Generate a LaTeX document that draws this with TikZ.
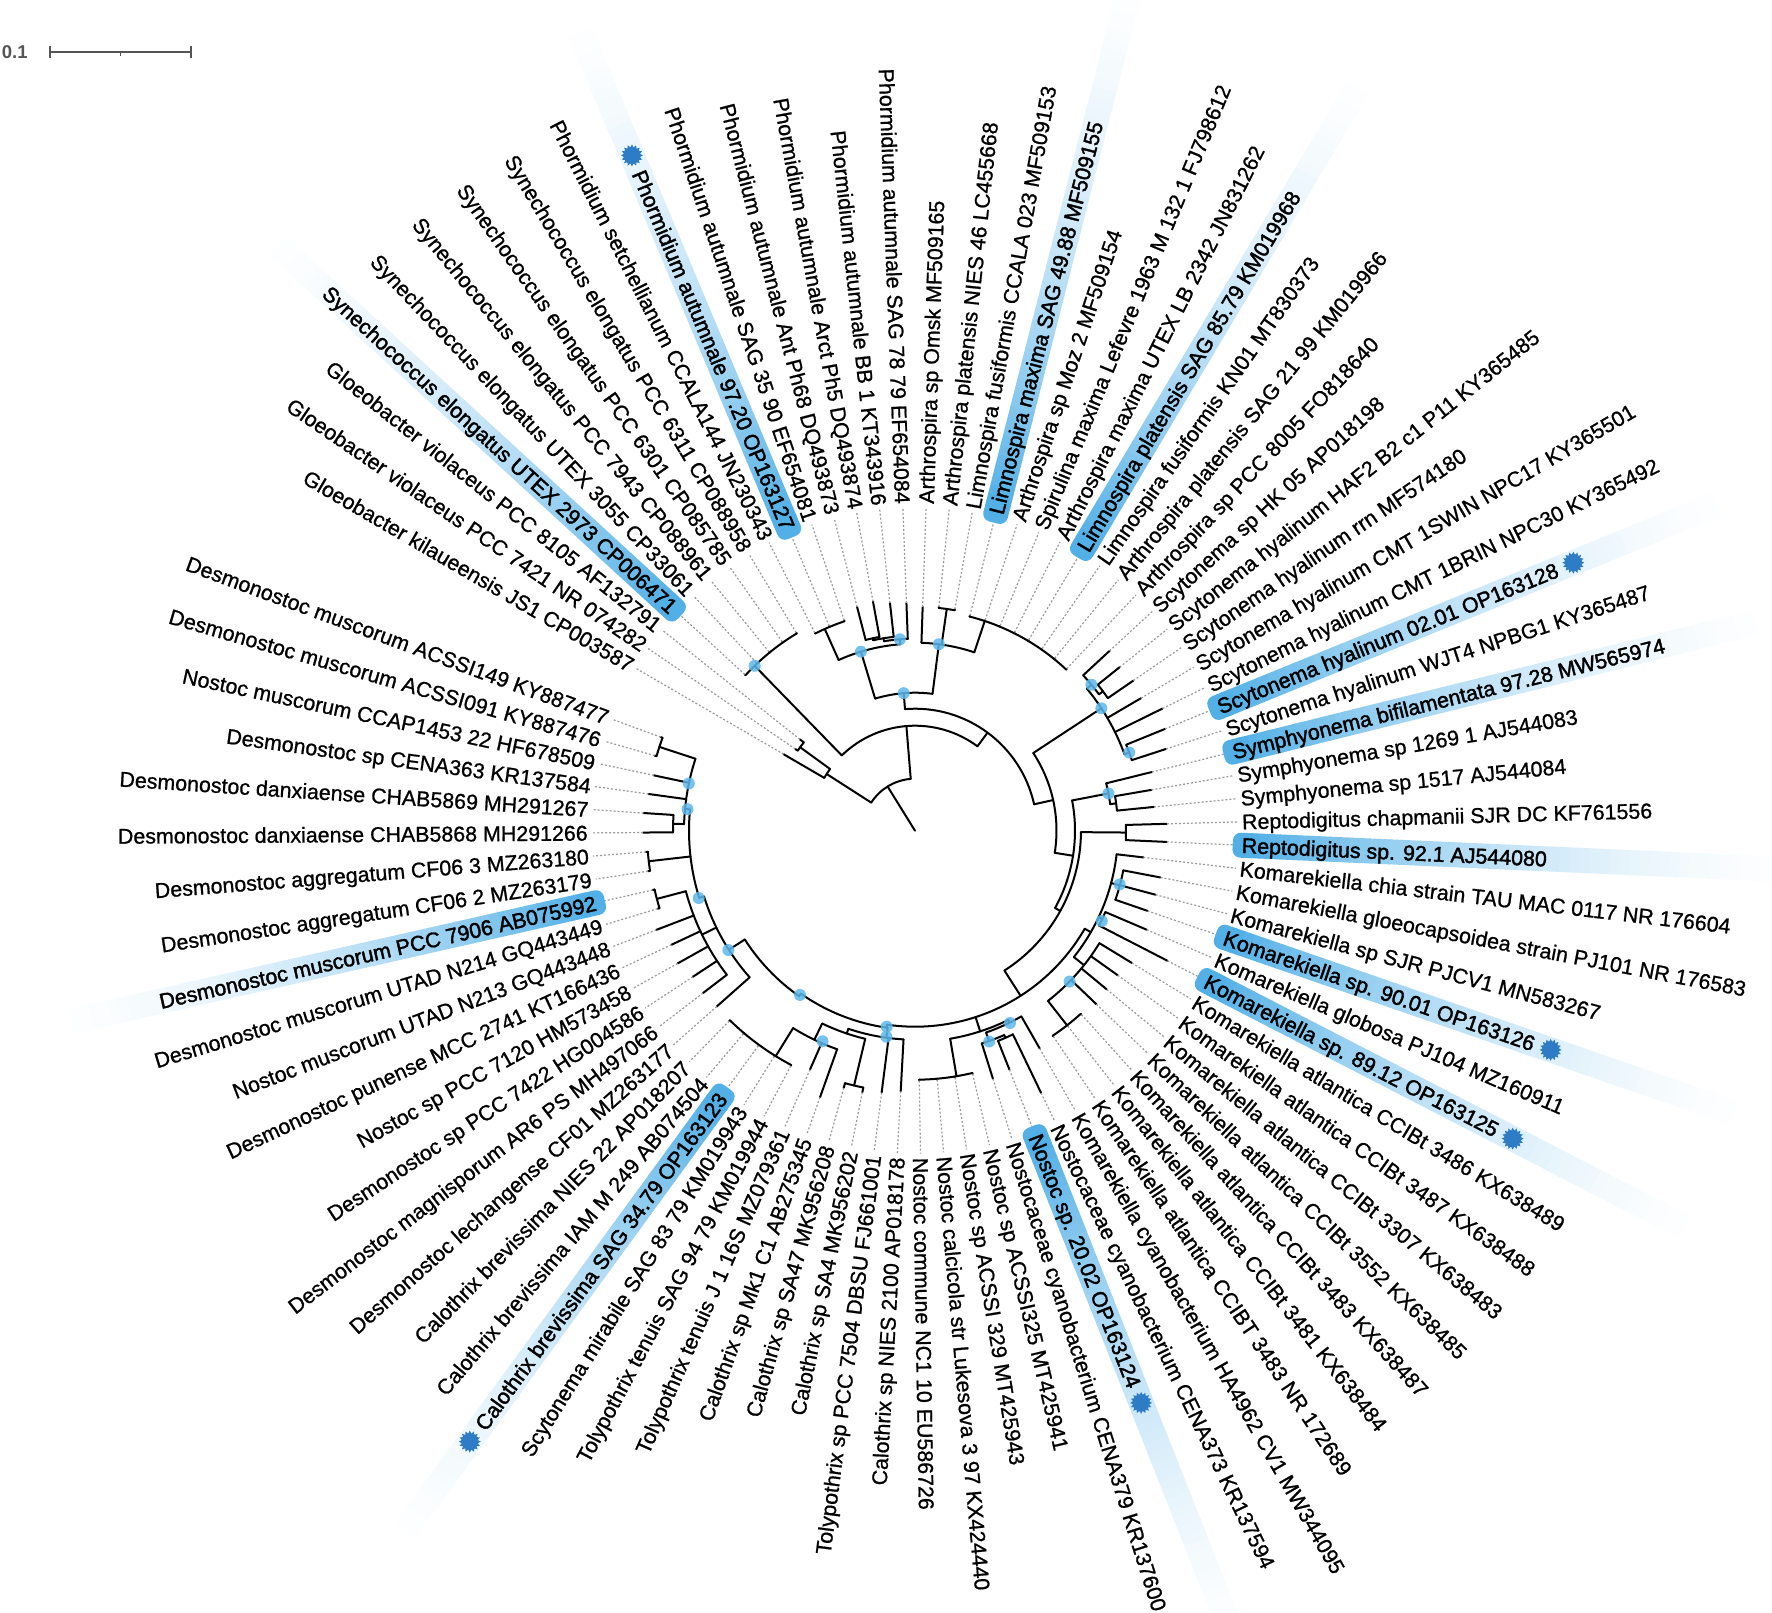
\documentclass[tikz,border=0pt]{standalone}
\usepackage{fontspec}
\setmainfont{Liberation Sans}
\newfontfamily\labfont{Liberation Sans}[FakeBold=0.9]
\newfontfamily\hlfont{Liberation Sans}[FakeBold=1.8]
\usetikzlibrary{shapes.geometric}
\definecolor{hlA}{HTML}{52B0E7}
\definecolor{nodeblue}{HTML}{5DB8EC}
\definecolor{starblue}{HTML}{2E7BC6}
\definecolor{dotgrey}{HTML}{9A9A9A}
\definecolor{scalegrey}{HTML}{555555}
\newcommand\setth[1]{\pgfmathsetmacro\th{159.8+mod(#1+47,86)*4.1176471}}
\newcommand\Rd[3]{\draw[br] (#1:#2) -- (#1:#3);}
\newcommand\Ar[3]{\draw[br] (#2:#1) arc[start angle=#2,end angle=#3,radius=#1];}
\newcommand\Bd[2]{\fill[nodeblue,opacity=.85] (#2:#1) circle[radius=6];}
\tikzset{
 br/.style={line width=2pt, black, line cap=round},
 dt/.style={dotgrey, line width=1.2pt, dash pattern=on 2pt off 2pt},
 lab/.style={inner sep=0pt, text height=15.3pt, text depth=0pt},
 starb/.style={star, star points=16, star point ratio=1.35, fill=starblue, draw=none, minimum size=22pt, inner sep=0pt},
}
\begin{document}
\begin{tikzpicture}[x=1pt,y=1pt]
\useasboundingbox (-915,-781.3) rectangle (857,830.7);
\fill[white] (-915,-781.3) rectangle (857,830.7);
% highlight bands (stepped fade)
\foreach \k in {1,5,7,16,20,29,35,47,57,71,81,83}{
 \setth{\k}
 \begin{scope}[rotate=\th]
  \fill[hlA, rounded corners=8pt] (318,-12.5) rectangle (345,12.5);
  \foreach \i in {0,...,57}{
   \pgfmathsetmacro\xa{335+10*\i}
   \pgfmathtruncatemacro\pp{100*(1-\i/57)^1.8}
   \fill[hlA!\pp!white] (\xa,-12.5) rectangle (\xa+10.8,12.5);
  }
 \end{scope}
}
% ---- tree: root and Gloeobacter
\Rd{121.8}{0}{52}
\Ar{52}{94.7}{147.3}
\Rd{147.3}{52}{105}
\Ar{105}{144}{149.8}
\Rd{144}{105}{142}
\Ar{142}{141.5}{145.6}
% A and Synechococcus
\Rd{94.7}{52}{105}
\Ar{105}{53.5}{134.2}
\Rd{134.2}{105}{230}
\Ar{230}{120.9}{137.4}
% B, Arthrospira, Phormidium
\Rd{53.5}{105}{122}
\Ar{122}{12.5}{94.7}
\Rd{94.7}{122}{138}
\Ar{138}{82.7}{106.8}
\Rd{82.7}{138}{188}
\Ar{188}{71.6}{88.0}
\Rd{81.85}{188}{224}
\Ar{224}{79.8}{83.9}
\Rd{71.6}{188}{221}
\Ar{221}{46.8}{75.7}
\Rd{106.8}{138}{187}
\Ar{187}{94.5}{114.1}
\Rd{114.1}{187}{221}
\Ar{221}{108.6}{116.8}
\Rd{94.5}{187}{192}
\Ar{192}{92.1}{99.3}
\Rd{99.3}{192}{195}
\Ar{195}{96.2}{102.4}
\Rd{102.4}{195}{197}
\Ar{197}{100.4}{104.5}
% D, Scytonema
\Rd{12.5}{122}{141.5}
\Ar{141.5}{-9}{33.3}
\Rd{33.3}{141.5}{223}
\Ar{223}{20.05}{39.6}
\Rd{39.6}{223}{229}
\Ar{229}{36.55}{42.7}
\Rd{36.55}{229}{234}
\Ar{234}{34.5}{38.6}
\Rd{20.05}{223}{228}
\Ar{228}{18.0}{22.1}
% E, Symphyonema
\Rd{-9}{141.5}{160}
\Ar{160}{-28.9}{10.9}
\Rd{10.9}{160}{197}
\Ar{197}{7.75}{13.9}
\Rd{7.75}{197}{203}
\Ar{203}{5.7}{9.8}
% K, Reptodigitus
\Rd{-28.9}{160}{166}
\Ar{166}{-57.4}{-0.5}
\Rd{-0.5}{166}{211}
\Ar{211}{-2.55}{1.6}
% F
\Rd{-57.4}{166}{196}
\Ar{196}{261.8}{330}
% Nostoc
\Rd{288}{196}{211}
\Ar{211}{279.6}{296.3}
\Rd{279.6}{211}{249}
\Ar{249}{271.0}{283.3}
\Rd{296.3}{211}{214}
\Ar{214}{289.4}{299.8}
\Rd{289.4}{214}{223}
\Ar{223}{287.4}{293.6}
\Rd{293.6}{223}{226}
\Ar{226}{291.5}{295.7}
% Komarekiella
\Rd{330}{196}{203}
\Ar{203}{321.5}{353.3}
\Rd{321.5}{203}{216}
\Ar{216}{308.0}{328.6}
\Rd{308}{216}{247}
\Ar{247}{303.9}{312.1}
\Rd{345.05}{203}{212}
\Ar{212}{340.9}{349.2}
\Rd{334.75}{203}{207}
\Ar{207}{332.7}{336.8}
% L1 and Calothrix group
\Rd{261.8}{196}{199}
\Ar{199}{235}{262.1}
\Rd{262.1}{199}{209}
\Ar{209}{251.4}{266.8}
\Rd{251.4}{209}{214}
\Ar{214}{244.3}{256.55}
\Rd{256.55}{214}{262}
\Ar{262}{254.5}{258.6}
\Rd{244.3}{214}{232}
\Ar{232}{238.3}{250.4}
\Rd{238.3}{232}{265}
\Ar{265}{225.7}{242.1}
% L2, L3, L4 and Desmonostoc
\Rd{235}{199}{202}
\Ar{202}{212.6}{235}
\Rd{212.6}{202}{221}
\Ar{221}{197.3}{221.6}
\Rd{206}{221}{237}
\Ar{237}{194.8}{217.4}
\Rd{194.8}{237}{267}
\Ar{267}{192.7}{196.9}
\Rd{197.3}{221}{226}
\Ar{226}{174.6}{197.3}
\Rd{186.55}{226}{268}
\Ar{268}{184.5}{188.6}
\Rd{174.6}{226}{231}
\Ar{231}{161.85}{178.35}
\Rd{161.85}{231}{269}
\Ar{269}{159.8}{163.9}
\Rd{178.35}{231}{242}
\Ar{242}{176.3}{180.4}
% ---- leaves
\foreach \k/\rp/\rt/\hl/\txt in {
1/211/252/1/Reptodigitus sp. 92.1 AJ544080,
2/211/252/0/Reptodigitus chapmanii SJR DC KF761556,
3/203/240/0/Symphyonema sp 1517 AJ544084,
4/203/240/0/Symphyonema sp 1269 1 AJ544083,
5/197/244/1/Symphyonema bifilamentata 97.28 MW565974,
6/228/264/0/Scytonema hyalinum WJT4 NPBG1 KY365487,
7/228/270/1/Scytonema hyalinum 02.01 OP163128,
8/223/276/0/Scytonema hyalinum CMT 1BRIN NPC30 KY365492,
9/223/262/0/Scytonema hyalinum CMT 1SWIN NPC17 KY365501,
10/234/265/0/Scytonema hyalinum rrn MF574180,
11/234/262/0/Scytonema hyalinum HAF2 B2 c1 P11 KY365485,
12/229/265/0/Scytonema sp HK 05 AP018198,
13/221/222/0/Arthrospira sp PCC 8005 FO818640,
14/221/222/0/Arthrospira platensis SAG 21 99 KM019966,
15/221/222/0/Limnospira fusiformis KN01 MT830373,
16/221/222/1/Limnospira platensis SAG 85.79 KM019968,
17/221/222/0/Arthrospira maxima UTEX LB 2342 JN831262,
18/221/222/0/Spirulina maxima Lefevre 1963 M 132 1 FJ798612,
19/221/222/0/Arthrospira sp Moz 2 MF509154,
20/221/222/1/Limnospira maxima SAG 49.88 MF509155,
21/224/225/0/Limnospira fusiformis CCALA 023 MF509153,
22/224/225/0/Arthrospira platensis NIES 46 LC455668,
23/188/224/0/Arthrospira sp Omsk MF509165,
24/192/228/0/Phormidium autumnale SAG 78 79 EF654084,
25/195/229/0/Phormidium autumnale BB 1 KT343916,
26/197/233/0/Phormidium autumnale Arct Ph5 DQ493874,
27/197/231/0/Phormidium autumnale Ant Ph68 DQ493873,
28/221/222/0/Phormidium autumnale SAG 35 90 EF654081,
29/221/222/1/Phormidium autumnale 97.20 OP163127,
30/221/222/0/Phormidium setchellianum CCALA144 JN230343,
31/230/231/0/Synechococcus elongatus PCC 6311 CP088958,
32/230/231/0/Synechococcus elongatus PCC 6301 CP085785,
33/230/231/0/Synechococcus elongatus PCC 7943 CP088961,
34/230/231/0/Synechococcus elongatus UTEX 3055 CP33061,
35/230/231/1/Synechococcus elongatus UTEX 2973 CP006471,
36/142/147/0/Gloeobacter violaceus PCC 8105 AF132791,
37/142/145/0/Gloeobacter violaceus PCC 7421 NR 074282,
38/105/152/0/Gloeobacter kilaueensis JS1 CP003587,
39/269/271/0/Desmonostoc muscorum ACSSI149 KY887477,
40/269/271/0/Desmonostoc muscorum ACSSI091 KY887476,
41/231/267/0/Nostoc muscorum CCAP1453 22 HF678509,
42/231/269/0/Desmonostoc sp CENA363 KR137584,
43/242/272/0/Desmonostoc danxiaense CHAB5869 MH291267,
44/242/272/0/Desmonostoc danxiaense CHAB5868 MH291266,
45/268/270/0/Desmonostoc aggregatum CF06 3 MZ263180,
46/268/270/0/Desmonostoc aggregatum CF06 2 MZ263179,
47/267/269/1/Desmonostoc muscorum PCC 7906 AB075992,
48/267/269/0/Desmonostoc muscorum UTAD N214 GQ443449,
49/237/277/0/Nostoc muscorum UTAD N213 GQ443448,
50/237/269/0/Desmonostoc punense MCC 2741 KT166436,
51/237/272/0/Nostoc sp PCC 7120 HM573458,
52/237/266/0/Desmonostoc sp PCC 7422 HG004586,
53/237/267/0/Desmonostoc magnisporum AR6 PS MH497066,
54/221/265/0/Desmonostoc lechangense CF01 MZ263177,
55/265/266/0/Calothrix brevissima NIES 22 AP018207,
56/265/266/0/Calothrix brevissima IAM M 249 AB074504,
57/265/266/1/Calothrix brevissima SAG 34.79 OP163123,
58/265/266/0/Scytonema mirabile SAG 83 79 KM019943,
59/265/266/0/Tolypothrix tenuis SAG 94 79 KM019944,
60/232/261/0/Tolypothrix tenuis J 1 16S MZ079361,
61/232/283/0/Calothrix sp Mk1 C1 AB275345,
62/262/267/0/Calothrix sp SA47 MK956208,
63/262/267/0/Calothrix sp SA4 MK956202,
64/209/264/0/Tolypothrix sp PCC 7504 DBSU FJ661001,
65/209/261/0/Calothrix sp NIES 2100 AP018178,
66/249/250/0/Nostoc commune NC1 10 EU586726,
67/249/250/0/Nostoc calcicola str Lukesova 3 97 KX424440,
68/249/250/0/Nostoc sp ACSSI 329 MT425943,
69/249/250/0/Nostoc sp ACSSI325 MT425941,
70/223/260/0/Nostocaceae cyanobacterium CENA379 KR137600,
71/226/257/1/Nostoc sp. 20.02 OP163124,
72/226/291/0/Nostocaceae cyanobacterium CENA373 KR137594,
73/214/251/0/Komarekiella cyanobacterium HA4962 CV1 MW344095,
74/247/248/0/Komarekiella atlantica CCIBT 3483 NR 172689,
75/247/248/0/Komarekiella atlantica CCIBt 3481 KX638484,
76/247/248/0/Komarekiella atlantica CCIBt 3483 KX638487,
77/216/251/0/Komarekiella atlantica CCIBt 3552 KX638485,
78/216/249/0/Komarekiella atlantica CCIBt 3307 KX638483,
79/216/249/0/Komarekiella atlantica CCIBt 3487 KX638488,
80/216/254/0/Komarekiella atlantica CCIBt 3486 KX638489,
81/207/284/1/Komarekiella sp. 89.12 OP163125,
82/207/252/0/Komarekiella globosa PJ104 MZ160911,
83/212/246/1/Komarekiella sp. 90.01 OP163126,
84/212/249/0/Komarekiella sp SJR PJCV1 MN583267,
85/212/250/0/Komarekiella gloeocapsoidea strain PJ101 NR 176583,
86/203/230/0/Komarekiella chia strain TAU MAC 0117 NR 176604}{
 \setth{\k}
 \draw[br] (\th:\rp) -- (\th:\rt);
 \ifnum\hl=1 \def\re{318}\def\lff{\hlfont}\else\def\re{323}\def\lff{\labfont}\fi
 \draw[dt] (\th:\rt) -- (\th:\re);
 \pgfmathsetmacro\cs{cos(\th)}
 \ifdim\cs pt<0pt
   \pgfmathsetmacro\rot{\th+180}
   \node[lab, font=\lff\fontsize{21.4}{25}\selectfont, anchor=east, rotate=\rot] (L\k) at (\th:327) {\txt};
 \else
   \node[lab, font=\lff\fontsize{21.4}{25}\selectfont, anchor=west, rotate=\th] (L\k) at (\th:327) {\txt};
 \fi
}
% node markers
\Bd{230}{134.2} \Bd{192}{94.5} \Bd{187}{106.8} \Bd{138}{94.7} \Bd{188}{82.7}
\Bd{229}{39.6} \Bd{223}{33.3} \Bd{228}{20.05} \Bd{197}{10.9}
\Bd{211.6}{345.3} \Bd{207.5}{334.2} \Bd{216}{315.7}
\Bd{214.5}{296.3} \Bd{223.5}{289.4}
\Bd{198}{261.8} \Bd{208}{262.1} \Bd{230}{246.3} \Bd{200.5}{235}
\Bd{221.5}{212.6} \Bd{226.5}{197.3} \Bd{231}{168.2} \Bd{228.5}{174.6}
% stars
\setth{7}\path (L7.east) ++(\th:17) node[starb]{};
\setth{81}\path (L81.east) ++(\th:17) node[starb]{};
\setth{83}\path (L83.east) ++(\th:17) node[starb]{};
\setth{71}\path (L71.east) ++(\th:17) node[starb]{};
\setth{29}\path (L29.west) ++(\th:17) node[starb]{};
\setth{57}\path (L57.west) ++(\th:17) node[starb]{};
% scale bar
\draw[scalegrey, line width=2pt] (-865,778.4) -- (-724.3,778.4);
\draw[scalegrey, line width=2pt] (-865,772.4) -- (-865,784.4);
\draw[scalegrey, line width=2pt] (-724.3,772.4) -- (-724.3,784.4);
\draw[scalegrey, line width=1.5pt] (-794.6,778.4) -- (-794.6,775);
\node[anchor=base west, inner sep=0pt, font=\bfseries\fontsize{18.5}{20}\selectfont, text=scalegrey] (scale) at (-913.3,772.4) {0.1};
\end{tikzpicture}
\end{document}
